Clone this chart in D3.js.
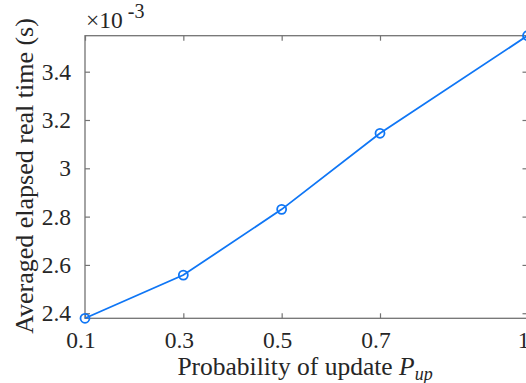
<!DOCTYPE html>
<html>
<head>
<meta charset="utf-8">
<script src="https://cdn.jsdelivr.net/npm/d3@7"></script>
<style>
  html, body { margin: 0; padding: 0; background: #fff; }
  svg { display: block; }
</style>
</head>
<body>
<svg id="chart" width="526" height="383"></svg>
<script>
// Update probability vs. averaged elapsed real time (x 1e-3 s)
const pUpdate = [0.1, 0.3, 0.5, 0.7, 1.0];
const elapsedTime = [2.379, 2.558, 2.830, 3.145, 3.549];

const xTicks = [0.1, 0.3, 0.5, 0.7, 1.0];
const xTickLabels = ["0.1", "0.3", "0.5", "0.7", "1"];
const yTicks = [2.4, 2.6, 2.8, 3.0, 3.2, 3.4];
const yTickLabels = ["2.4", "2.6", "2.8", "3", "3.2", "3.4"];

const svg = d3.select("#chart");
const plotL = 85, plotR = 527.5, plotT = 35.7, plotB = 318.3;
const axisColor = "#737373";
const lineColor = "#0f76f5";
const textColor = "#262626";
const serif = '"Liberation Serif"';

const x = d3.scaleLinear().domain([0.1, 1.0]).range([plotL, plotR]);
const y = d3.scaleLinear().domain(d3.extent(elapsedTime)).range([plotB, plotT]);

// Box frame
svg.append("rect")
  .attr("x", plotL).attr("y", plotT)
  .attr("width", plotR - plotL).attr("height", plotB - plotT)
  .attr("fill", "none").attr("stroke", axisColor).attr("stroke-width", 1.3);

function styleAxis(g) {
  g.attr("font-family", null).attr("font-size", null);
  g.select(".domain").remove();
  g.selectAll(".tick line").attr("stroke", axisColor).attr("stroke-width", 1.2);
  g.selectAll(".tick text").attr("fill", textColor)
    .style("font-size", "23.5px").style("font-family", serif);
}

// Bottom axis with labels; ticks point inward
svg.append("g").attr("transform", `translate(0,${plotB})`)
  .call(d3.axisBottom(x).tickValues(xTicks)
    .tickFormat((d, i) => xTickLabels[i]).tickSize(-5).tickPadding(13))
  .call(styleAxis)
  .call(g => g.selectAll(".tick text").attr("dx", -4.5));
// Top mirrored ticks
svg.append("g").attr("transform", `translate(0,${plotT})`)
  .call(d3.axisTop(x).tickValues(xTicks).tickFormat("").tickSize(-5))
  .call(styleAxis);
// Left axis with labels
svg.append("g").attr("transform", `translate(${plotL},0)`)
  .call(d3.axisLeft(y).tickValues(yTicks)
    .tickFormat((d, i) => yTickLabels[i]).tickSize(-5).tickPadding(14))
  .call(styleAxis);
// Right mirrored ticks
svg.append("g").attr("transform", `translate(${plotR},0)`)
  .call(d3.axisRight(y).tickValues(yTicks).tickFormat("").tickSize(-5))
  .call(styleAxis);

// Exponent label
const expo = svg.append("text").attr("x", plotL + 1).attr("y", 28)
  .attr("fill", textColor)
  .style("font-family", serif).style("font-size", "23.5px");
expo.append("tspan").text("\u00d710");
expo.append("tspan").attr("dx", 5).attr("dy", -10).style("font-size", "20px").text("-3");

// Data line and markers
const line = d3.line().x((d, i) => x(pUpdate[i])).y(d => y(d));
svg.append("path").datum(elapsedTime)
  .attr("d", line).attr("fill", "none")
  .attr("stroke", lineColor).attr("stroke-width", 1.8);
svg.selectAll("circle.pt").data(elapsedTime).join("circle")
  .attr("class", "pt")
  .attr("cx", (d, i) => x(pUpdate[i])).attr("cy", d => y(d))
  .attr("r", 4.5).attr("fill", "none")
  .attr("stroke", lineColor).attr("stroke-width", 1.8);

// Axis titles
const xt = svg.append("text").attr("x", 305).attr("y", 375)
  .attr("text-anchor", "middle").attr("fill", textColor)
  .style("font-family", serif).style("font-size", "25.5px");
xt.append("tspan").text("Probability of update ");
xt.append("tspan").style("font-style", "italic").text("P");
xt.append("tspan").style("font-style", "italic").style("font-size", "18px")
  .attr("dy", 5).text("up");

svg.append("text")
  .attr("transform", `translate(33,${(plotT + plotB) / 2 - 1}) rotate(-90)`)
  .attr("text-anchor", "middle").attr("fill", textColor)
  .style("font-family", serif).style("font-size", "26px")
  .text("Averaged elapsed real time (s)");
</script>
</body>
</html>
